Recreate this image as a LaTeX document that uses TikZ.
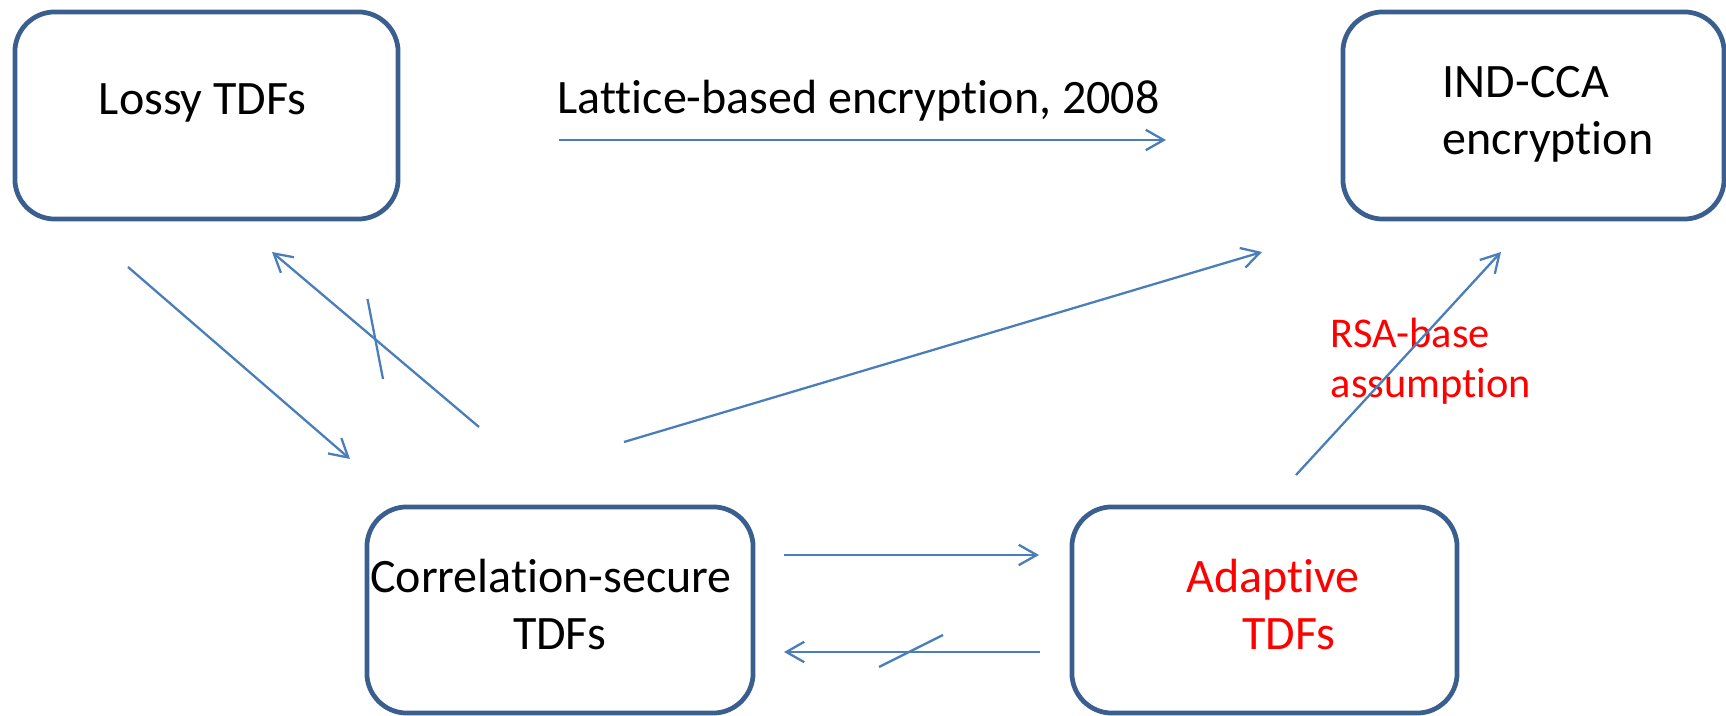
\documentclass[tikz,border=0pt]{standalone}
\usepackage{fontspec}
\setmainfont{Carlito}[Ligatures={NoCommon,NoContextual}]
\usetikzlibrary{arrows.meta}
\definecolor{boxline}{HTML}{3A5F8F}
\definecolor{arrowline}{HTML}{4A7EBB}
\definecolor{hotred}{HTML}{FF0000}
\tikzset{
  stagebox/.style={draw=boxline, line width=1.35pt, rounded corners=0.4cm,
    rectangle, inner sep=0pt, minimum height=2.07cm},
  lbl/.style={inner sep=0pt, font=\fontsize{13.65pt}{16.2pt}\selectfont},
  redlbl/.style={inner sep=0pt, text=hotred, font=\fontsize{12.05pt}{14.2pt}\selectfont},
  link/.style={draw=arrowline, line width=0.65pt,
    -{Straight Barb[length=5.1pt, width=5.8pt, line width=0.65pt]}},
  strike/.style={draw=arrowline, line width=0.65pt}
}
\begin{document}
\begin{tikzpicture}[x=0.01cm, y=-0.01cm]
\useasboundingbox (0,0) rectangle (1726,716);

% boxes
\node[stagebox, minimum width=3.83cm] (lossy) at (206.5,115.5) {};
\node[stagebox, minimum width=3.81cm] (indcca) at (1533.5,115.5) {};
\node[stagebox, minimum width=3.86cm, minimum height=2.06cm] (corr) at (560,610) {};
\node[stagebox, minimum width=3.85cm, minimum height=2.06cm] (adapt) at (1264.5,610) {};

% box texts
\node[lbl, anchor=base] (lossyT) at (202.7,115) {Lossy TDFs};
\node[lbl, anchor=base west] (indT1) at (1442,98) {IND-CCA};
\node[lbl, anchor=base west] (indT2) at (1442,155) {encryption};
\node[lbl, anchor=base] (corrT1) at (551,593) {Correlation-secure};
\node[lbl, anchor=base] (corrT2) at (559.5,650) {TDFs};
\node[lbl, anchor=base, text=hotred] (adaptT1) at (1273,593) {Adaptive};
\node[lbl, anchor=base, text=hotred] (adaptT2) at (1289,650) {TDFs};

% edge labels
\node[lbl, anchor=base] (latticeT) at (858.5,114) {Lattice-based encryption, 2008};
\node[redlbl, anchor=base west] (rsaT1) at (1330,348) {RSA-base};
\node[redlbl, anchor=base west] (rsaT2) at (1330,398) {assumption};

% connector end points
\coordinate (latA) at (559,140);
\coordinate (latB) at (1166,140);
\coordinate (ciA) at (624,442);
\coordinate (ciB) at (1262,252);
\coordinate (rsaA) at (1296,475);
\coordinate (rsaB) at (1501,252);
\coordinate (lcA) at (128,267);
\coordinate (lcB) at (350,459);
\coordinate (clA) at (479,427);
\coordinate (clB) at (272,252);
\coordinate (clS1) at (367.5,299);
\coordinate (clS2) at (383,379);
\coordinate (caA) at (784,555);
\coordinate (caB) at (1039,555);
\coordinate (acA) at (1040,652);
\coordinate (acB) at (784,652);
\coordinate (acS1) at (879,667);
\coordinate (acS2) at (943,635);

% connectors
\draw[link] (latA) -- (latB);
\draw[link] (ciA) -- (ciB);
\draw[link] (rsaA) -- (rsaB);
\draw[link] (lcA) -- (lcB);
\draw[link] (clA) -- (clB);
\draw[strike] (clS1) -- (clS2);
\draw[link] (caA) -- (caB);
\draw[link] (acA) -- (acB);
\draw[strike] (acS1) -- (acS2);
\end{tikzpicture}
\end{document}
